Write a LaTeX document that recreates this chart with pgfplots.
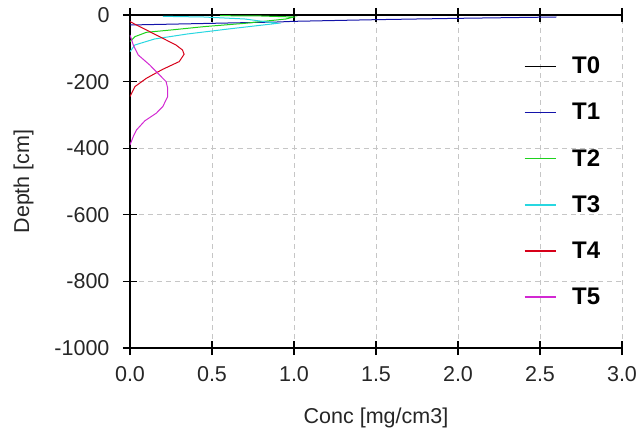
\documentclass[border=0pt]{standalone}
\usepackage{pgfplots}
\pgfplotsset{compat=1.18}
\usepackage{fontspec}
\setmainfont{Liberation Sans}
\definecolor{cT0}{RGB}{0,0,0}
\definecolor{cT1}{RGB}{20,20,170}
\definecolor{cT2}{RGB}{30,210,30}
\definecolor{cT3}{RGB}{40,215,225}
\definecolor{cT4}{RGB}{215,0,25}
\definecolor{cT5}{RGB}{210,40,210}
\begin{document}
\begin{tikzpicture}
\useasboundingbox (-130pt,-86pt) rectangle (510pt,348pt);
\begin{axis}[
    scale only axis, width=492pt, height=333pt,
    at={(0,0)}, anchor=south west,
    xmin=0, xmax=3, ymin=-1000, ymax=0,
    separate axis lines,
    axis x line*=box, axis y line*=left,
    axis line style={line width=1.5pt, -},
    xtick={0,0.5,...,3}, ytick={-1000,-800,...,0},
    tick align=center, major tick length=14pt,
    tick style={line width=1.2pt, black},
    xticklabel style={/pgf/number format/.cd, fixed, fixed zerofill, precision=1, /tikz/.cd, yshift=-8pt},
    yticklabel style={/pgf/number format/1000 sep={}, xshift=-10pt},
    /pgf/number format/assume math mode=true,
    ticklabel style={font=\fontsize{21.5}{25}\selectfont, text=black!85},
    grid=major,
    major grid style={gray!45, line width=0.8pt, dash pattern=on 5pt off 4pt},
    xlabel={Conc [mg/cm3]}, ylabel={Depth [cm]},
    xlabel style={yshift=-19pt}, ylabel style={yshift=14pt},
    label style={font=\fontsize{21.5}{25}\selectfont, text=black!85},
    legend style={at={(rel axis cs:0.80,0.88)}, anchor=north west, draw=none, fill=none,
        font=\fontsize{24}{28}\selectfont\bfseries, row sep=24pt, inner sep=0pt,
        /tikz/every odd column/.append style={column sep=14pt}},
    legend cell align=left,
    legend image code/.code={\draw[#1, line width=1.4pt] (0pt,0pt) -- (31pt,0pt);},
    every axis plot/.append style={line width=1pt},
]
\addplot[cT0] coordinates {(3,0) (0,0)};
\addplot[cT1] coordinates {(0,-30) (0.3,-27) (0.5,-25) (0.9,-21) (1.0,-19) (1.5,-14) (2.0,-10) (2.6,-6)};
\addplot[cT2] coordinates {(0,-80) (0.03,-65) (0.1,-52) (0.25,-45) (0.45,-35) (0.7,-25) (0.95,-12) (1.0,-6) (0.8,-3) (0.55,-2)};
\addplot[cT3] coordinates {(0,-110) (0.03,-90) (0.15,-72) (0.35,-57) (0.6,-42) (0.9,-25) (0.7,-12) (0.45,-6) (0.2,-4)};
\addplot[cT4] coordinates {(0,-20) (0.1,-45) (0.2,-70) (0.28,-90) (0.32,-105) (0.33,-118) (0.3,-140) (0.2,-163) (0.1,-190) (0.03,-215) (0,-245)};
\addplot[cT5] coordinates {(0,-60) (0.02,-90) (0.05,-120) (0.12,-150) (0.17,-175) (0.22,-200) (0.23,-220) (0.23,-245) (0.2,-275) (0.16,-295) (0.09,-318) (0.04,-345) (0.02,-365) (0,-390)};
\legend{T0,T1,T2,T3,T4,T5}
\end{axis}
\end{tikzpicture}
\end{document}
